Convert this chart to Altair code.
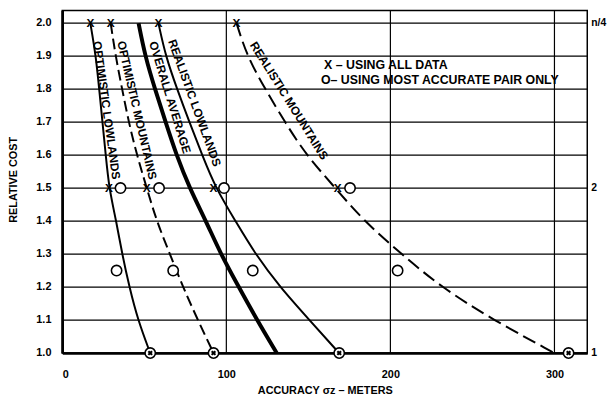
import altair as alt
import pandas as pd

# ---- data ----
levels = [2.0, 1.9, 1.8, 1.7, 1.6, 1.5, 1.4, 1.3, 1.2, 1.1, 1.0]
optimistic_lowlands = [17.1, 20.5, 22.5, 24.5, 26.5, 28.5, 32.9, 36.5, 40.9, 46.1, 53.6]
optimistic_mountains = [29.5, 32.5, 36.5, 40.5, 45.5, 51.5, 57.5, 65.6, 73.6, 82.6, 92.2]
overall_average = [46.5, 50.5, 56.5, 63.0, 69.6, 77.6, 87.6, 96.6, 107.6, 118.7, 130.7]
realistic_lowlands = [58.6, 63.0, 70.0, 77.5, 85.3, 93.5, 105.6, 117.6, 132.7, 150.7, 168.7]
realistic_mountains = [106.2, 112.6, 123.7, 135.7, 148.7, 166.5, 183.8, 206.8, 230.8, 262.8, 300.0]

x_all_top = [17.1, 29.5, 58.6, 106.2]      # "X" at cost 2.0
x_all_mid = [28.5, 51.5, 92.2, 167.8]      # "X" at cost 1.5
o_pair_mid = [35.5, 59.0, 98.6, 175.4]     # "O" at cost 1.5
o_pair_low = [33.1, 67.6, 116.1, 204.4]    # "O" at cost 1.25
both_base = [53.6, 92.2, 168.8, 308.6]     # both at cost 1.0

curve_names = ["OPTIMISTIC LOWLANDS", "OPTIMISTIC MOUNTAINS", "OVERALL AVERAGE",
               "REALISTIC LOWLANDS", "REALISTIC MOUNTAINS"]
label_x = [27.0, 45.5, 65.6, 80.6, 138.2]
label_y = [1.736, 1.736, 1.775, 1.758, 1.765]
label_angle = [82, 77, 73, 70, 58]

legend_lines = ["X – USING ALL DATA", "O– USING MOST ACCURATE PAIR ONLY"]
legend_x = [159.6, 157.7]
legend_y = [1.873, 1.826]

y_ticks = [1.0, 1.1, 1.2, 1.3, 1.4, 1.5, 1.6, 1.7, 1.8, 1.9, 2.0]
y_tick_labels = ["1.0", "1.1", "1.2", "1.3", "1.4", "1.5", "1.6", "1.7", "1.8", "1.9", "2.0"]
x_ticks = [0, 100, 200, 300]
right_vals = [2.0, 1.5, 1.0]
right_labels = ["n/4", "2", "1"]

FONT = "Liberation Sans Narrow, Liberation Sans, Arial, sans-serif"

xs = alt.Scale(domain=[0, 320], nice=False, zero=False)
ys = alt.Scale(domain=[1.0, 2.038], nice=False, zero=False)

def curve_df(vals):
    return pd.DataFrame({"x": vals, "y": levels})

X = lambda: alt.X("x:Q", scale=xs)
Y = lambda: alt.Y("y:Q", scale=ys)

# axes layer (invisible points)
axes_layer = alt.Chart(curve_df(overall_average)).mark_point(opacity=0).encode(
    x=alt.X("x:Q", scale=xs, axis=alt.Axis(
        values=x_ticks, title="ACCURACY σz – METERS", grid=False, tickSize=0,
        labelPadding=16, labelFont=FONT, labelOverlap=False,
        labelFontSize=11, labelFontWeight="bold", labelColor="black", domainColor="black",
        domainWidth=2.5, titleFont=FONT, titleFontSize=11, titleFontWeight="bold",
        titleColor="black", titleY=38, titleBaseline="middle")),
    y=alt.Y("y:Q", scale=ys, axis=alt.Axis(
        title="RELATIVE COST", grid=False, tickSize=0, labels=False,
        domainColor="black", domainWidth=2.5, titleFont=FONT, titleFontSize=11,
        titleFontWeight="bold", titleColor="black", titleX=-49, titleY=171,
        titleBaseline="middle")),
)

hgrid = alt.Chart(pd.DataFrame({"y": y_ticks})).mark_rule(color="black", strokeWidth=1.2).encode(y=Y())
vgrid = alt.Chart(pd.DataFrame({"x": x_ticks})).mark_rule(color="black", strokeWidth=1.2).encode(x=X())

ylab = alt.Chart(pd.DataFrame({"x": [0] * len(y_ticks), "y": y_ticks, "t": y_tick_labels})).mark_text(
    font=FONT, fontSize=11, fontWeight="bold", color="black", align="right",
    baseline="middle", dx=-11).encode(x=X(), y=Y(), text="t:N")

def line(vals, width, dash=None):
    kw = dict(color="black", strokeWidth=width, interpolate="basis")
    if dash:
        kw["strokeDash"] = dash
    return alt.Chart(curve_df(vals)).mark_line(**kw).encode(x=X(), y=Y())

lines = [
    line(optimistic_lowlands, 2.0),
    line(optimistic_mountains, 2.0, [11, 5]),
    line(overall_average, 4.0),
    line(realistic_lowlands, 2.0),
    line(realistic_mountains, 2.0, [14, 6]),
]

x_df = pd.DataFrame({"x": x_all_top + x_all_mid,
                     "y": [2.0] * len(x_all_top) + [1.5] * len(x_all_mid)})
o_df = pd.DataFrame({"x": o_pair_mid + o_pair_low + both_base,
                     "y": [1.5] * len(o_pair_mid) + [1.25] * len(o_pair_low) + [1.0] * len(both_base)})
b_df = pd.DataFrame({"x": both_base, "y": [1.0] * len(both_base)})

x_marks = alt.Chart(x_df).mark_text(text="X", font=FONT, fontSize=12, fontWeight="bold",
                                    color="black", baseline="middle", align="center").encode(x=X(), y=Y())
o_marks = alt.Chart(o_df).mark_point(shape="circle", filled=True, fill="white", stroke="black",
                                     strokeWidth=1.6, size=110, opacity=1).encode(x=X(), y=Y())
b_marks = alt.Chart(b_df).mark_point(shape="cross", angle=45, filled=True, color="black",
                                     size=28, opacity=1).encode(x=X(), y=Y())

lab_df = pd.DataFrame({"x": label_x, "y": label_y, "t": curve_names, "a": label_angle})
labels = alt.Chart(lab_df).mark_text(font=FONT, fontSize=12, fontWeight="bold", color="black",
                                     align="center", baseline="middle").encode(
    x=X(), y=Y(), text="t:N", angle=alt.Angle("a:Q", scale=None))

leg_df = pd.DataFrame({"x": legend_x, "y": legend_y, "t": legend_lines})
legend = alt.Chart(leg_df).mark_text(font=FONT, fontSize=12.5, fontWeight="bold", color="black",
                                     align="left", baseline="middle").encode(x=X(), y=Y(), text="t:N")

r_df = pd.DataFrame({"x": [320] * len(right_vals), "y": right_vals, "t": right_labels})
right = alt.Chart(r_df).mark_text(font=FONT, fontSize=10.5, fontWeight="bold", color="black",
                                  align="left", baseline="middle", dx=4).encode(x=X(), y=Y(), text="t:N")

chart = alt.layer(axes_layer, hgrid, vgrid, ylab, *lines, x_marks, o_marks, b_marks,
                  labels, legend, right).properties(
    width=532, height=347,
    autosize=alt.AutoSizeParams(type="none"),
    padding={"left": 55, "top": 0, "right": 20, "bottom": 47},
    background="white",
).configure_view(stroke="black", strokeWidth=1.5)

chart.save("out.html", embed_options={"renderer": "svg", "actions": False})
